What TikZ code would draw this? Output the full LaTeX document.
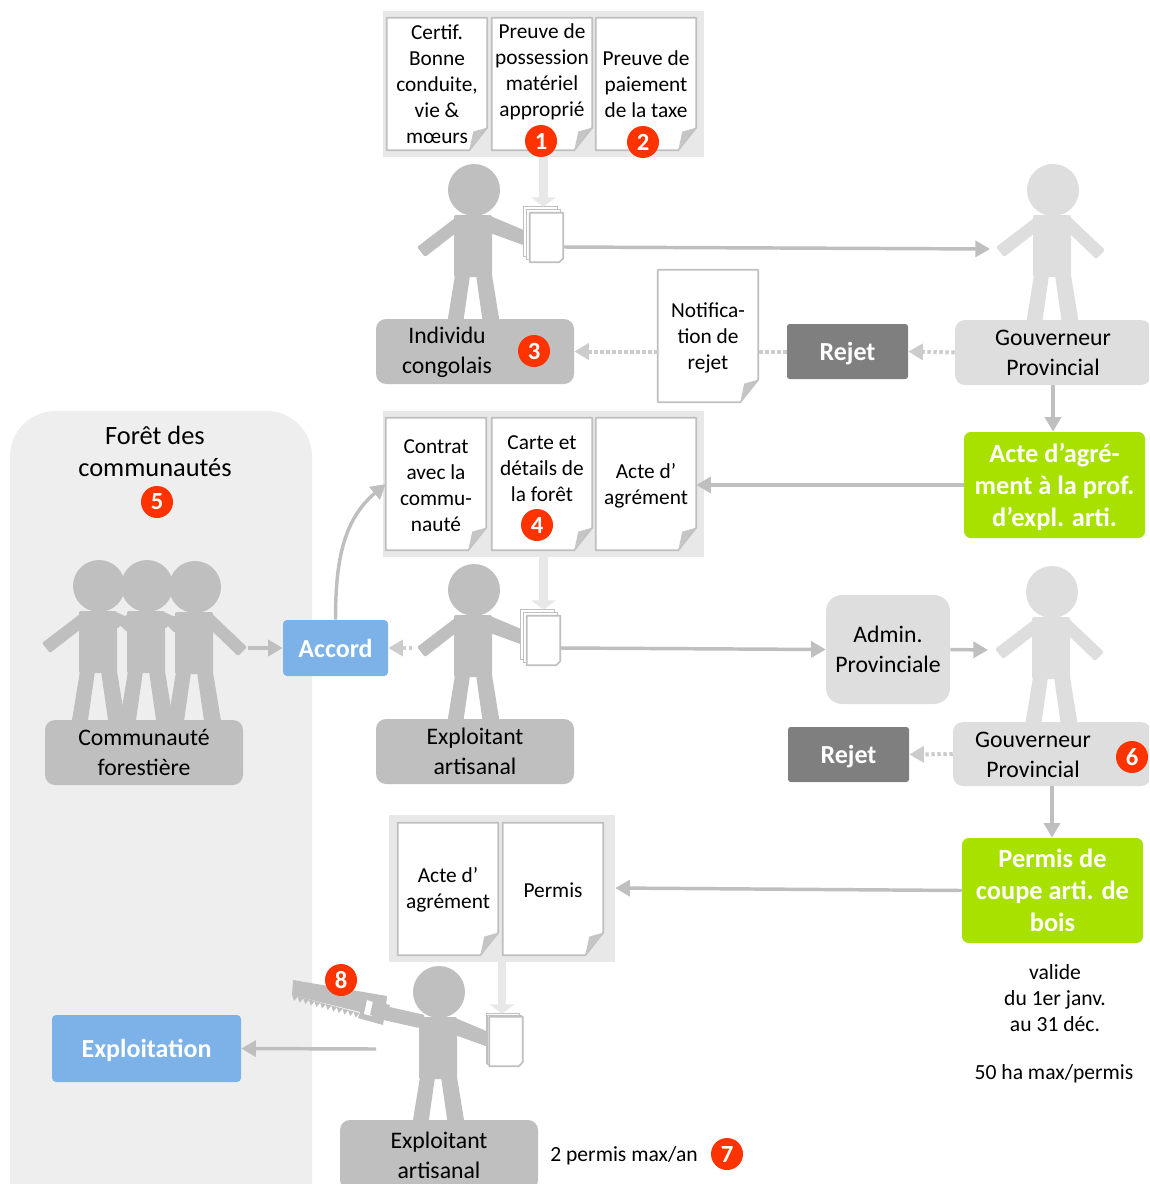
\documentclass[tikz,border=0pt]{standalone}
\usepackage{fontspec}
\setmainfont{Carlito}
\usetikzlibrary{arrows.meta}

\definecolor{figdark}{HTML}{BFBFBF}
\definecolor{figlight}{HTML}{DEDEDE}
\definecolor{grouplight}{HTML}{E8E8E8}
\definecolor{forestbg}{HTML}{EEEEEE}
\definecolor{rejectgrey}{HTML}{7F7F7F}
\definecolor{actgreen}{HTML}{A8E000}
\definecolor{stepblue}{HTML}{7CB2E8}
\definecolor{badgered}{HTML}{FF3300}

\tikzset{
  boxsize/.style 2 args={minimum width=#1*0.75pt,minimum height=#2*0.75pt},
  groupbox/.style={fill=grouplight,inner sep=0pt},
  sheet/.style={inner sep=0pt,boxsize={100}{132}},
  smallsheet/.style={inner sep=0pt,boxsize={33}{49}},
  doctext/.style={align=center,inner sep=0pt,font=\fontsize{16}{19.5}\selectfont},
  boxtext/.style={align=center,inner sep=0pt,font=\fontsize{17.8}{22.5}\selectfont},
  darkbox/.style={boxtext,fill=figdark,rounded corners=7.5pt},
  lightbox/.style={boxtext,fill=figlight,rounded corners=7.5pt},
  rejectbox/.style={fill=rejectgrey,text=white,rounded corners=2pt,inner sep=0pt,text depth=0pt,font=\fontsize{19.5}{20}\selectfont\bfseries},
  bluebox/.style={fill=stepblue,text=white,rounded corners=3pt,inner sep=0pt,text depth=0pt,font=\fontsize{19.5}{20}\selectfont\bfseries},
  greenbox/.style={fill=actgreen,text=white,rounded corners=5pt,align=center,inner sep=0pt,text depth=0pt,font=\fontsize{19.8}{24}\selectfont\bfseries},
  badge/.style={circle,fill=badgered,text=white,inner sep=0pt,minimum size=24pt,font=\fontsize{18.5}{20}\selectfont\bfseries},
  garrow/.style={draw=figdark,line width=2.6pt,-{Triangle[length=11pt,width=12pt]}},
  dotarrow/.style={draw=figdark!80,line width=3pt,dash pattern=on 2.5pt off 2pt,-{Triangle[length=11pt,width=12pt]}},
  dotline/.style={draw=figdark!80,line width=3pt,dash pattern=on 2.5pt off 2pt},
  bigarrow/.style={draw=grouplight,line width=6.5pt,-{Triangle[length=7pt,width=18pt]}},
}

% sheet with folded corner, text set apart
\newcommand{\docpage}[5]{
  \node[sheet] (#1) at (#2,#3) {};
  \draw[figdark,line width=1.2pt,fill=white] (#1.north west) -- (#1.north east)
    -- ([yshift=17pt]#1.south east) -- ([xshift=-13.5pt]#1.south east) -- (#1.south west) -- cycle;
  \fill[figdark!90] ([yshift=17pt]#1.south east) -- ([xshift=-13.5pt]#1.south east)
    -- ([xshift=-10.5pt,yshift=14pt]#1.south east) -- cycle;
  \node[doctext] (#1text) at (#2,#4) {#5};
}

% small pile of paper, #4 is the offset of the last sheet
\newcommand{\paperstack}[4]{
  \node[smallsheet] (#1back) at (#2-#4,#3-#4) {};
  \node[smallsheet] (#1mid) at (#2-#4/2,#3-#4/2) {};
  \node[smallsheet] (#1) at (#2,#3) {};
  \foreach \pg in {#1back,#1mid}
    \draw[figdark,line width=0.9pt,fill=white] (\pg.north west) rectangle (\pg.south east);
  \draw[figdark,line width=1.2pt,fill=white] (#1.north west) -- (#1.north east)
    -- ([yshift=3pt]#1.south east) -- ([xshift=-3pt]#1.south east) -- (#1.south west) -- cycle;
}

% figure, head centre at #1,#2
\newcommand{\personfig}[5]{
  \begin{scope}[shift={(#1,#2)}]
    \fill[#3] (0,0) circle [radius=19.5pt];
    \fill[#3,rounded corners=1.5pt] (-20,25) -- (18,25) -- (18,87) -- (-20,87) -- cycle;
    \fill[#3] (-19,85) -- (-4,85) -- (-11,134) -- (-27,134) -- cycle;
    \fill[#3] (2,85) -- (18,85) -- (26,134) -- (9,134) -- cycle;
    \fill[#3,rounded corners=1pt] #4;
    \fill[#3,rounded corners=1pt] #5;
  \end{scope}
}
\def\armleft{(-15,25) -- (-57,57) -- (-49,67) -- (-18,43) -- cycle}
\def\armright{(15,25) -- (52,60) -- (43,69) -- (16,43) -- cycle}
\def\armdoc{(14,25) -- (52,41) -- (52,56) -- (16,43) -- cycle}
\def\armnear{(-15,25) -- (-30,36) -- (-20,46) -- cycle}
\def\armnext{(15,25) -- (30,32) -- (18,43) -- cycle}
\def\armsaw{(-14,23) -- (-67,11) -- (-69,25) -- (-20,36) -- cycle}

\begin{document}
\begin{tikzpicture}[x=0.75pt,y=-0.75pt,line join=round]
  \clip (0,0) rectangle (1149,1184);

  % forest background
  \fill[forestbg,rounded corners=34pt] (10,411) rectangle (312,1240);

  % groups of papers
  \node[groupbox,boxsize={321}{146}] (groupA) at (543.5,84) {};
  \node[groupbox,boxsize={321}{146}] (groupB) at (543.5,484) {};
  \node[groupbox,boxsize={226}{147}] (groupC) at (502,888.5) {};

  \docpage{certif}{437}{84}{84}{Certif.\\Bonne\\conduite,\\vie \&\\mœurs}
  \docpage{materiel}{542}{84}{71.5}{Preuve de\\possession\\matériel\\approprié}
  \docpage{taxe}{646}{84}{84}{Preuve de\\paiement\\de la taxe}
  \docpage{contrat}{436}{484}{486}{Contrat\\avec la\\commu-\\nauté}
  \docpage{carte}{542}{484}{469}{Carte et\\détails de\\la forêt}
  \docpage{acteB}{646}{484}{486}{Acte d’\\agrément}
  \docpage{acteC}{448}{889}{890}{Acte d’\\agrément}
  \docpage{permis}{553}{889}{890}{Permis}
  \docpage{notif}{708}{336}{338}{Notifica-\\tion de\\rejet}

  % figures
  \personfig{474}{190}{figdark}{\armleft}{\armdoc}
  \personfig{1053}{190}{figlight}{\armleft}{\armright}
  \personfig{474}{590}{figdark}{\armleft}{\armdoc}
  \personfig{1052}{592}{figlight}{\armleft}{\armright}
  \personfig{99}{586}{figdark}{\armleft}{\armnext}
  \personfig{147}{586}{figdark}{\armnear}{\armnext}
  \personfig{195}{587}{figdark}{\armnear}{\armright}
  \personfig{439}{992}{figdark}{\armsaw}{\armdoc}

  % saw
  \fill[figdark] (293,980) -- (387,996) -- (386,1006) -- (383,1025) -- (358,1018) -- (360,1012) -- (292,995) -- cycle;
  \foreach \t in {0,1,...,11}
    \fill[figdark] (292+5.6*\t,995+1.5*\t) -- (298+5.6*\t,996.5+1.5*\t) -- (294+5.6*\t,1001+1.5*\t) -- cycle;
  \fill[white] (367,1000) -- (376,1003) -- (372,1016) -- (364,1014) -- cycle;
  \fill[figdark] (373,1001) -- (390,1005) -- (386,1019) -- (370,1015) -- cycle;

  % paper piles
  \paperstack{stackA}{546.5}{237.5}{6}
  \paperstack{stackB}{543.5}{640.5}{6}
  \paperstack{stackC}{506}{1041.5}{3}

  % boxes
  \node[darkbox,boxsize={198}{65}] (individu) at (475,351.5) {};
  \node[boxtext] (individutext) at (447,352) {Individu\\congolais};
  \node[lightbox,boxsize={196}{65}] (gouvA) at (1053,352.5) {Gouverneur\\Provincial};
  \node[rejectbox,boxsize={121}{55}] (rejetA) at (847.5,351.5) {Rejet};
  \node[greenbox,boxsize={181}{106}] (acte) at (1054.5,485) {Acte d’agré-\\ment à la prof.\\d’expl. arti.};
  \node[darkbox,boxsize={198}{65}] (exploitantA) at (475,751.5) {Exploitant\\artisanal};
  \node[darkbox,boxsize={198}{65}] (communaute) at (144,752.5) {Communauté\\forestière};
  \node[bluebox,boxsize={105}{56}] (accord) at (335.5,648) {Accord};
  \node[lightbox,rounded corners=12pt,boxsize={124}{109}] (admin) at (888,649.5) {Admin.\\Provinciale};
  \node[lightbox,boxsize={198}{64}] (gouvB) at (1052,754) {};
  \node[boxtext] (gouvBtext) at (1033,755) {Gouverneur\\Provincial};
  \node[rejectbox,boxsize={121}{55}] (rejetB) at (848.5,754.5) {Rejet};
  \node[greenbox,boxsize={181}{105}] (coupe) at (1052.5,890.5) {Permis de\\coupe arti. de\\bois};
  \node[bluebox,boxsize={189}{67}] (exploitation) at (146.5,1048.5) {Exploitation};
  \node[darkbox,boxsize={198}{70}] (exploitantB) at (439,1155) {Exploitant\\artisanal};

  % free texts
  \node[align=center,inner sep=0pt,font=\fontsize{19.8}{24}\selectfont] (foret) at (155,451) {Forêt des\\communautés};
  \node[doctext,font=\fontsize{16.2}{19.5}\selectfont] (valide) at (1055,998) {valide\\du 1er janv.\\au 31 déc.};
  \node[doctext,font=\fontsize{16.2}{19.5}\selectfont] (surface) at (1054,1074) {50 ha max/permis};
  \node[doctext,font=\fontsize{16.2}{19.5}\selectfont] (maxan) at (624,1156) {2 permis max/an};

  % free ends
  \coordinate (handA) at (990,249);
  \coordinate (handB) at (988,650);
  \coordinate (feetC) at (376,1049);
  \coordinate (armB) at (412,648);
  \coordinate (armC) at (248,648);

  % connectors
  \draw[bigarrow] (groupA.south) -- (groupA.south |- stackAback.north);
  \draw[bigarrow] (groupB.south) -- (groupB.south |- stackBback.north);
  \draw[bigarrow] (groupC.south) -- (groupC.south |- stackCback.north);
  \draw[garrow] (stackA.east |- 0,247) -- (handA);
  \draw[dotarrow] (gouvA.west) -- (rejetA.east);
  \draw[dotline] (rejetA.west) -- (notif.east |- rejetA.west);
  \draw[dotarrow] (notif.west |- individu.east) -- (individu.east);
  \draw[garrow] (gouvA.south) -- (acte.north -| gouvA.south);
  \draw[garrow] (acte.west) -- (groupB.east |- acte.west) -- ++(-8,0);
  \draw[garrow] (accord.north) to[out=90,in=220] (contrat.west);
  \draw[garrow] (stackB.east |- 0,648) -- (admin.west);
  \draw[garrow] (admin.east) -- (handB);
  \draw[dotarrow] (armB) -- (accord.east);
  \draw[garrow] (armC) -- (accord.west);
  \draw[garrow] (gouvB.south) -- (coupe.north -| gouvB.south);
  \draw[dotarrow] (gouvB.west) -- (rejetB.east);
  \draw[garrow] (coupe.west) -- (groupC.east |- 0,888);
  \draw[garrow] (feetC) -- (exploitation.east);

  % numbers
  \node[badge] (numA) at (541,141) {1};
  \node[badge] (numB) at (643,142) {2};
  \node[badge] (numC) at (534,351) {3};
  \node[badge] (numD) at (537,525) {4};
  \node[badge] (numE) at (157,502) {5};
  \node[badge] (numF) at (1132,757) {6};
  \node[badge] (numG) at (727,1154) {7};
  \node[badge] (numH) at (341,980) {8};
\end{tikzpicture}
\end{document}
